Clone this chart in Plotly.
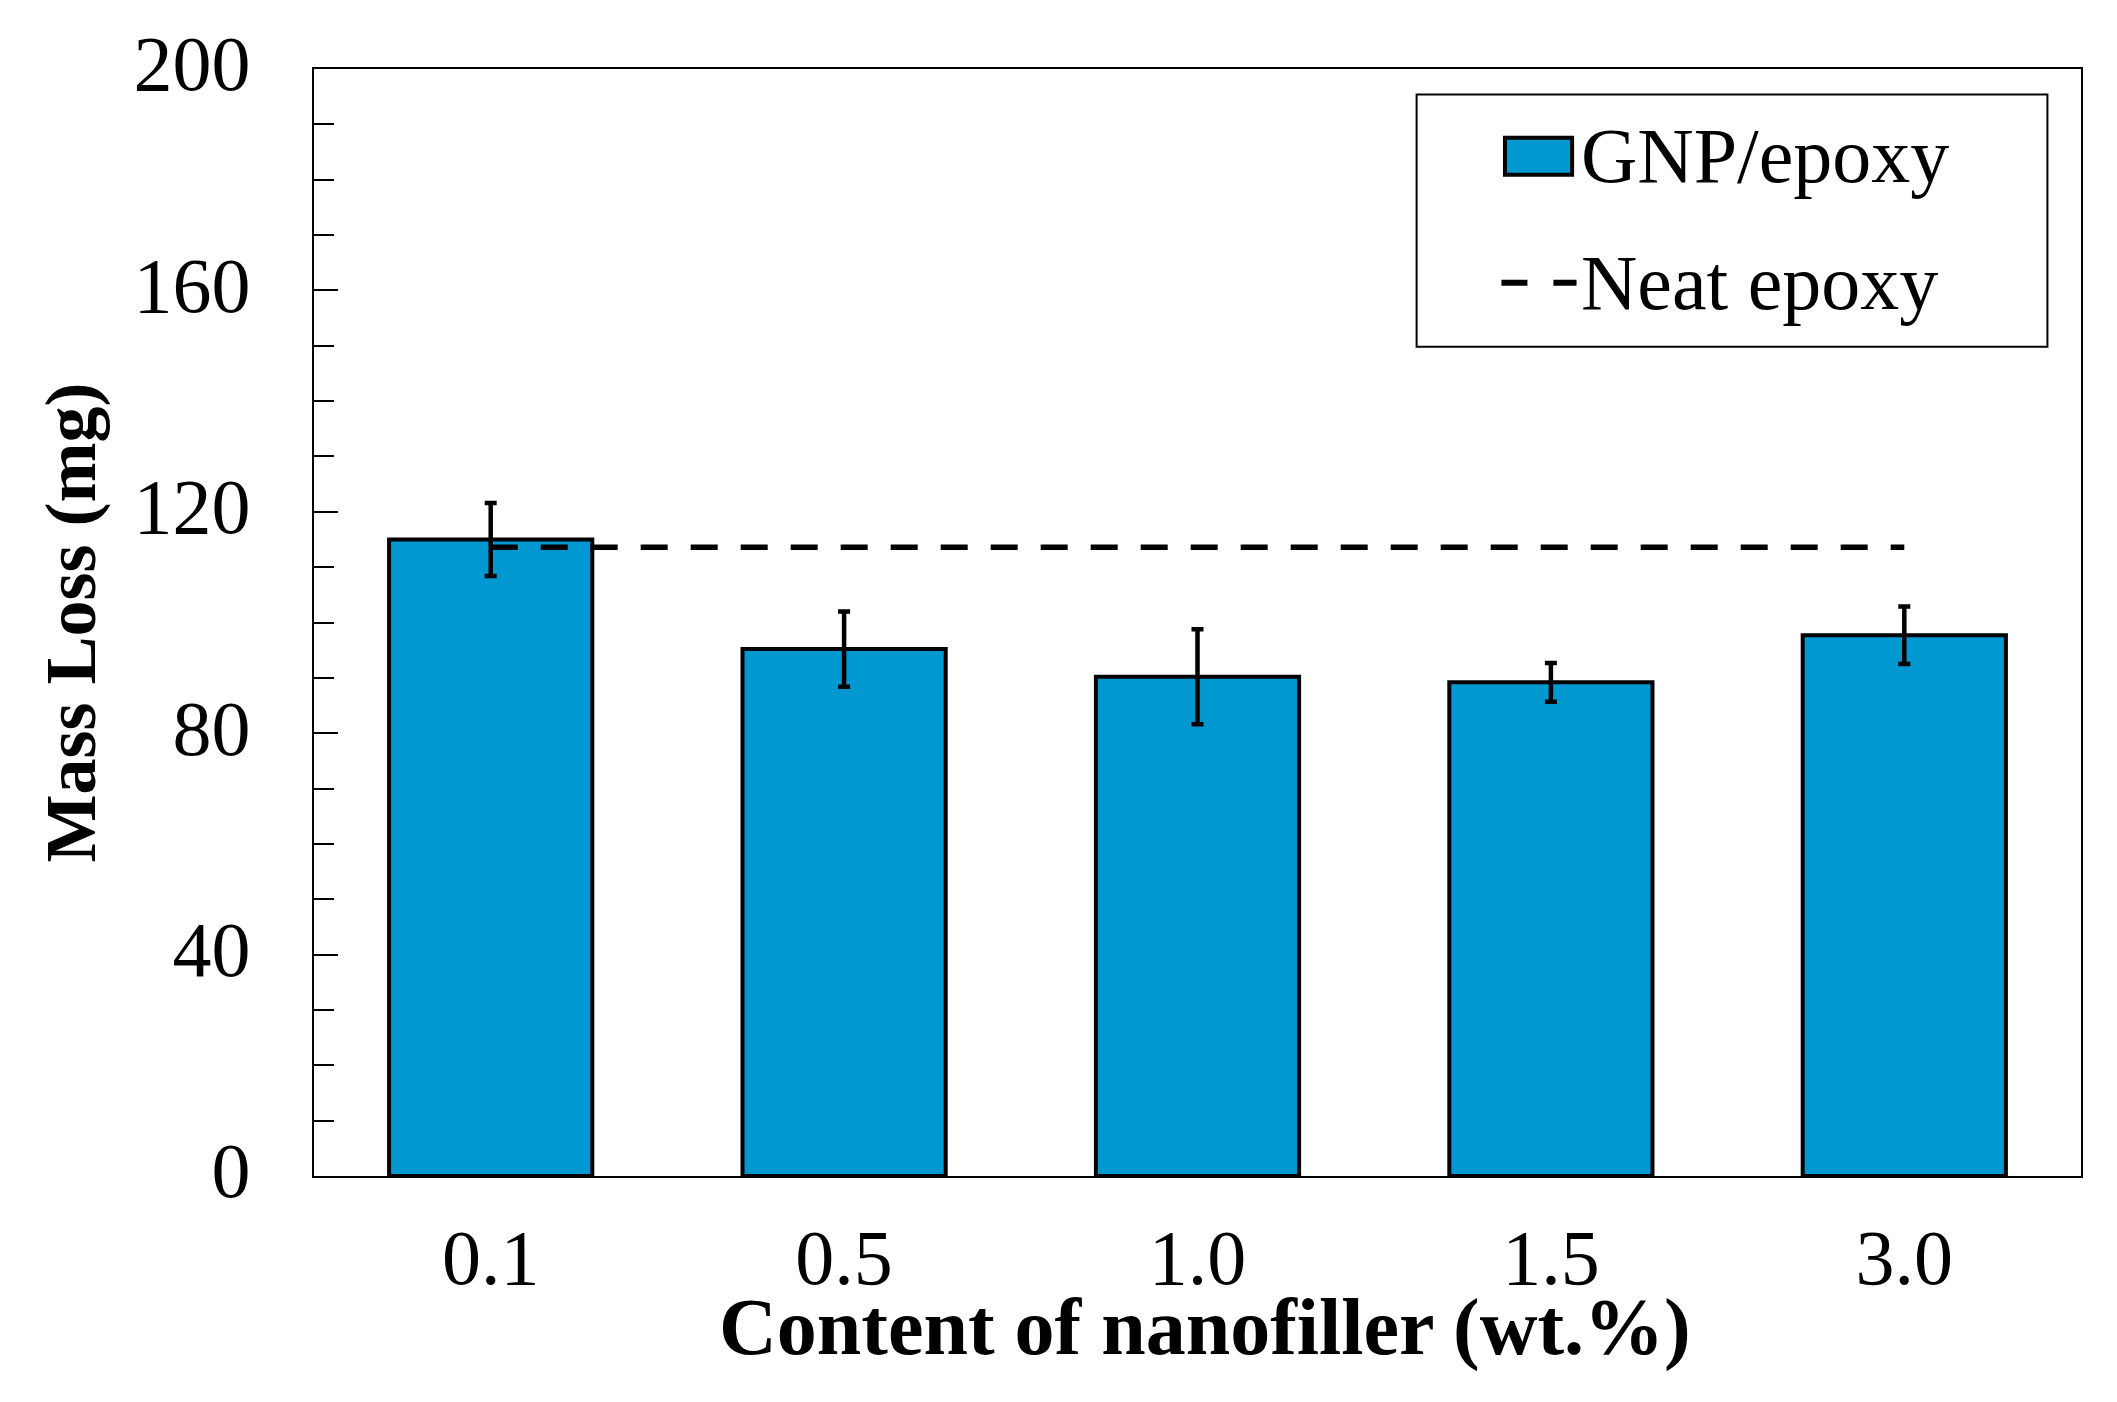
import plotly.graph_objects as go

# ---- data ----
categories = ["0.1", "0.5", "1.0", "1.5", "3.0"]
gnp_mass_loss = [115.0, 95.2, 90.2, 89.2, 97.7]
gnp_error = [6.6, 6.8, 8.6, 3.5, 5.2]
neat_epoxy = [113.6, 113.6, 113.6, 113.6, 113.6]
y_ticks = [0, 40, 80, 120, 160, 200]
series_names = ["GNP/epoxy", "Neat epoxy"]
x_title = "Content of nanofiller (wt.%)"
y_title = "Mass Loss (mg)"

FONT = "Liberation Serif"
BLUE = "#0098D1"

fig = go.Figure()
fig.add_trace(go.Bar(
    x=categories, y=gnp_mass_loss, name=series_names[0],
    marker=dict(color=BLUE, line=dict(color="black", width=4)),
    error_y=dict(type="data", array=gnp_error, visible=True,
                 color="black", thickness=4.5, width=6),
    showlegend=False,
))
fig.add_trace(go.Scatter(
    x=categories, y=neat_epoxy, name=series_names[1], mode="lines",
    line=dict(color="black", width=5.5, dash="27px,23px"),
    showlegend=False,
))

# legend drawn as a boxed key (swatches + text)
legend_shapes = [
    dict(type="rect", xref="paper", yref="paper",
         x0=0.624, x1=0.981, y0=0.749, y1=0.977,
         line=dict(color="black", width=2), fillcolor="white", layer="above"),
    dict(type="rect", xref="paper", yref="paper",
         x0=0.674, x1=0.712, y0=0.9045, y1=0.938,
         line=dict(color="black", width=4), fillcolor=BLUE, layer="above"),
    dict(type="line", xref="paper", yref="paper",
         x0=0.672, x1=0.7145, y0=0.807, y1=0.807,
         line=dict(color="black", width=6, dash="26px,26px"), layer="above"),
]
legend_texts = [
    dict(text=series_names[0], xref="paper", yref="paper", x=0.716, y=0.9216,
         xanchor="left", yanchor="middle", showarrow=False,
         font=dict(family=FONT, size=78, color="black")),
    dict(text=series_names[1], xref="paper", yref="paper", x=0.716, y=0.807,
         xanchor="left", yanchor="middle", showarrow=False,
         font=dict(family=FONT, size=78, color="black")),
    dict(text="<b>" + x_title + "</b>", xref="paper", yref="paper", x=0.504, y=-0.137,
         xanchor="center", yanchor="middle", showarrow=False,
         font=dict(family=FONT, size=80, color="black")),
]

fig.update_layout(
    width=2101, height=1386,
    margin=dict(l=306, r=28, t=58, b=218),
    paper_bgcolor="white", plot_bgcolor="white",
    font=dict(family=FONT, size=78, color="black"),
    bargap=0.425,
    showlegend=False,
    xaxis=dict(
        type="category", range=[-0.5, 4.5],
        showline=True, linecolor="black", linewidth=2, mirror=True,
        ticks="", showgrid=False, zeroline=False,
        tickfont=dict(family=FONT, size=78),
        ticklabelstandoff=12,
    ),
    yaxis=dict(
        range=[0, 200], tickvals=y_ticks,
        showline=True, linecolor="black", linewidth=2, mirror=True,
        ticks="inside", ticklen=24, tickwidth=2, tickcolor="black",
        minor=dict(dtick=10, ticks="inside", ticklen=20, tickwidth=2, tickcolor="black"),
        showgrid=False, zeroline=False,
        tickfont=dict(family=FONT, size=78),
        ticklabelstandoff=46, ticklabelshift=-6,
        title=dict(text="<b>" + y_title + "</b>",
                   font=dict(family=FONT, size=72), standoff=14),
    ),
    shapes=legend_shapes,
    annotations=legend_texts,
)

fig.write_html("out.html")
